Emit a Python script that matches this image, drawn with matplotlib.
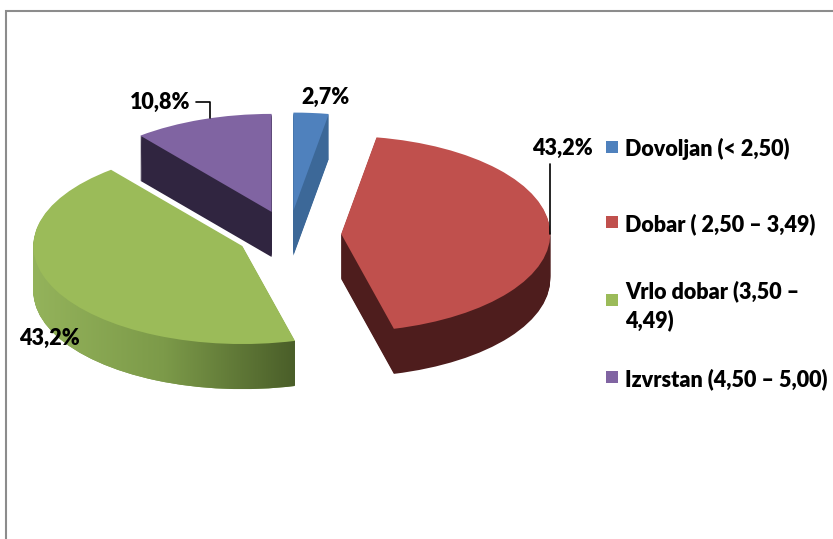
import matplotlib
matplotlib.use('Agg')
import matplotlib.pyplot as plt
import numpy as np
from matplotlib.colors import LinearSegmentedColormap
from matplotlib.path import Path
from matplotlib.patches import PathPatch, Rectangle

plt.rcParams['font.family'] = ['Lato', 'DejaVu Sans']
plt.rcParams['font.weight'] = 'heavy'

# podaci
categories = ['Dovoljan (< 2,50)', 'Dobar ( 2,50 – 3,49)',
              'Vrlo dobar (3,50 –\n4,49)', 'Izvrstan (4,50 – 5,00)']
percent = [2.7, 43.2, 43.2, 10.8]

top_colors = ['#4F81BD', '#C0504D', '#9BBB59', '#8064A2']
side_colors = ['#3C6898', '#4E1D1D', '#7A9848', '#302540']

W, H = 833, 539
fig = plt.figure(figsize=(W / 100, H / 100), dpi=100)
ax = fig.add_axes([0, 0, 1, 1])

# centar i radijusi elipse u pikselima
cx, cy, rx, ry = 289, 235, 209, 98
depth = 0.46
explode = [0.25] * len(percent)
fs = 15.5


def draw_pie(dy, colors, z):
    wedges, _ = ax.pie(percent, explode=explode, startangle=90, counterclock=False,
                       colors=colors, center=(0, -dy),
                       wedgeprops=dict(linewidth=0, zorder=z))
    return wedges


# bocne stranice (slojevi odozdo prema gore)
green_side = []
for d in np.linspace(depth, 0, 47)[:-1]:
    w = draw_pie(d, side_colors, 1)
    green_side.append(w[2])

# gradijent na zelenoj stranici
gpath = Path.make_compound_path(*[w.get_path() for w in green_side])
clip = PathPatch(gpath, transform=ax.transData)
ext = gpath.get_extents()
cmap = LinearSegmentedColormap.from_list('gside', ['#94B35B', '#7C9A49', '#4A5E29'])
im = ax.imshow(np.linspace(0, 1, 256)[None, :], cmap=cmap, aspect='auto',
               extent=(ext.x0, ext.x1, ext.y0, ext.y1), zorder=2, interpolation='bilinear')
im.set_clip_path(clip)

tops = draw_pie(0, top_colors, 3)

ax.set_aspect('auto')
ax.set_xlim(-cx / rx, (W - cx) / rx)
ax.set_ylim((cy - H) / ry, cy / ry)
ax.axis('off')

# oznake postotaka
label_pos = [(326, 97), (562, 148), (49, 338), (160, 102)]
leader_angle = [None, 0, None, 107]
for i, (v, w) in enumerate(zip(percent, tops)):
    txt = f'{v:.1f}%'.replace('.', ',')
    px, py = label_pos[i]
    if leader_angle[i] is None:
        fig.text(px / W, 1 - py / H, txt, ha='center', va='center', fontsize=fs)
    else:
        a = np.deg2rad(leader_angle[i])
        xy = (w.center[0] + w.r * np.cos(a), w.center[1] + w.r * np.sin(a))
        ax.annotate(txt, xy=xy, xytext=(px / W, 1 - py / H), textcoords='figure fraction',
                    ha='center', va='center', fontsize=fs, zorder=5,
                    arrowprops=dict(arrowstyle='-', color='black', lw=1.2, shrinkA=2, shrinkB=0,
                                    connectionstyle='angle,angleA=0,angleB=90,rad=0'))

# legenda
legend_y = [147, 222, 300, 377]
for i, lab in enumerate(categories):
    y = legend_y[i]
    fig.add_artist(Rectangle((606 / W, 1 - (y + 6) / H), 12 / W, 12 / H,
                             transform=fig.transFigure, color=top_colors[i], lw=0))
    fig.text(625 / W, 1 - y / H, lab, ha='left', va='center_baseline',
             fontsize=fs, linespacing=1.4)

# okvir
fig.add_artist(Rectangle((6 / W, -0.05), 1.2, (H - 11) / H + 0.05, transform=fig.transFigure,
                         fill=False, ec='#8C8C8C', lw=1.5))

fig.savefig('out.png', dpi=100)
